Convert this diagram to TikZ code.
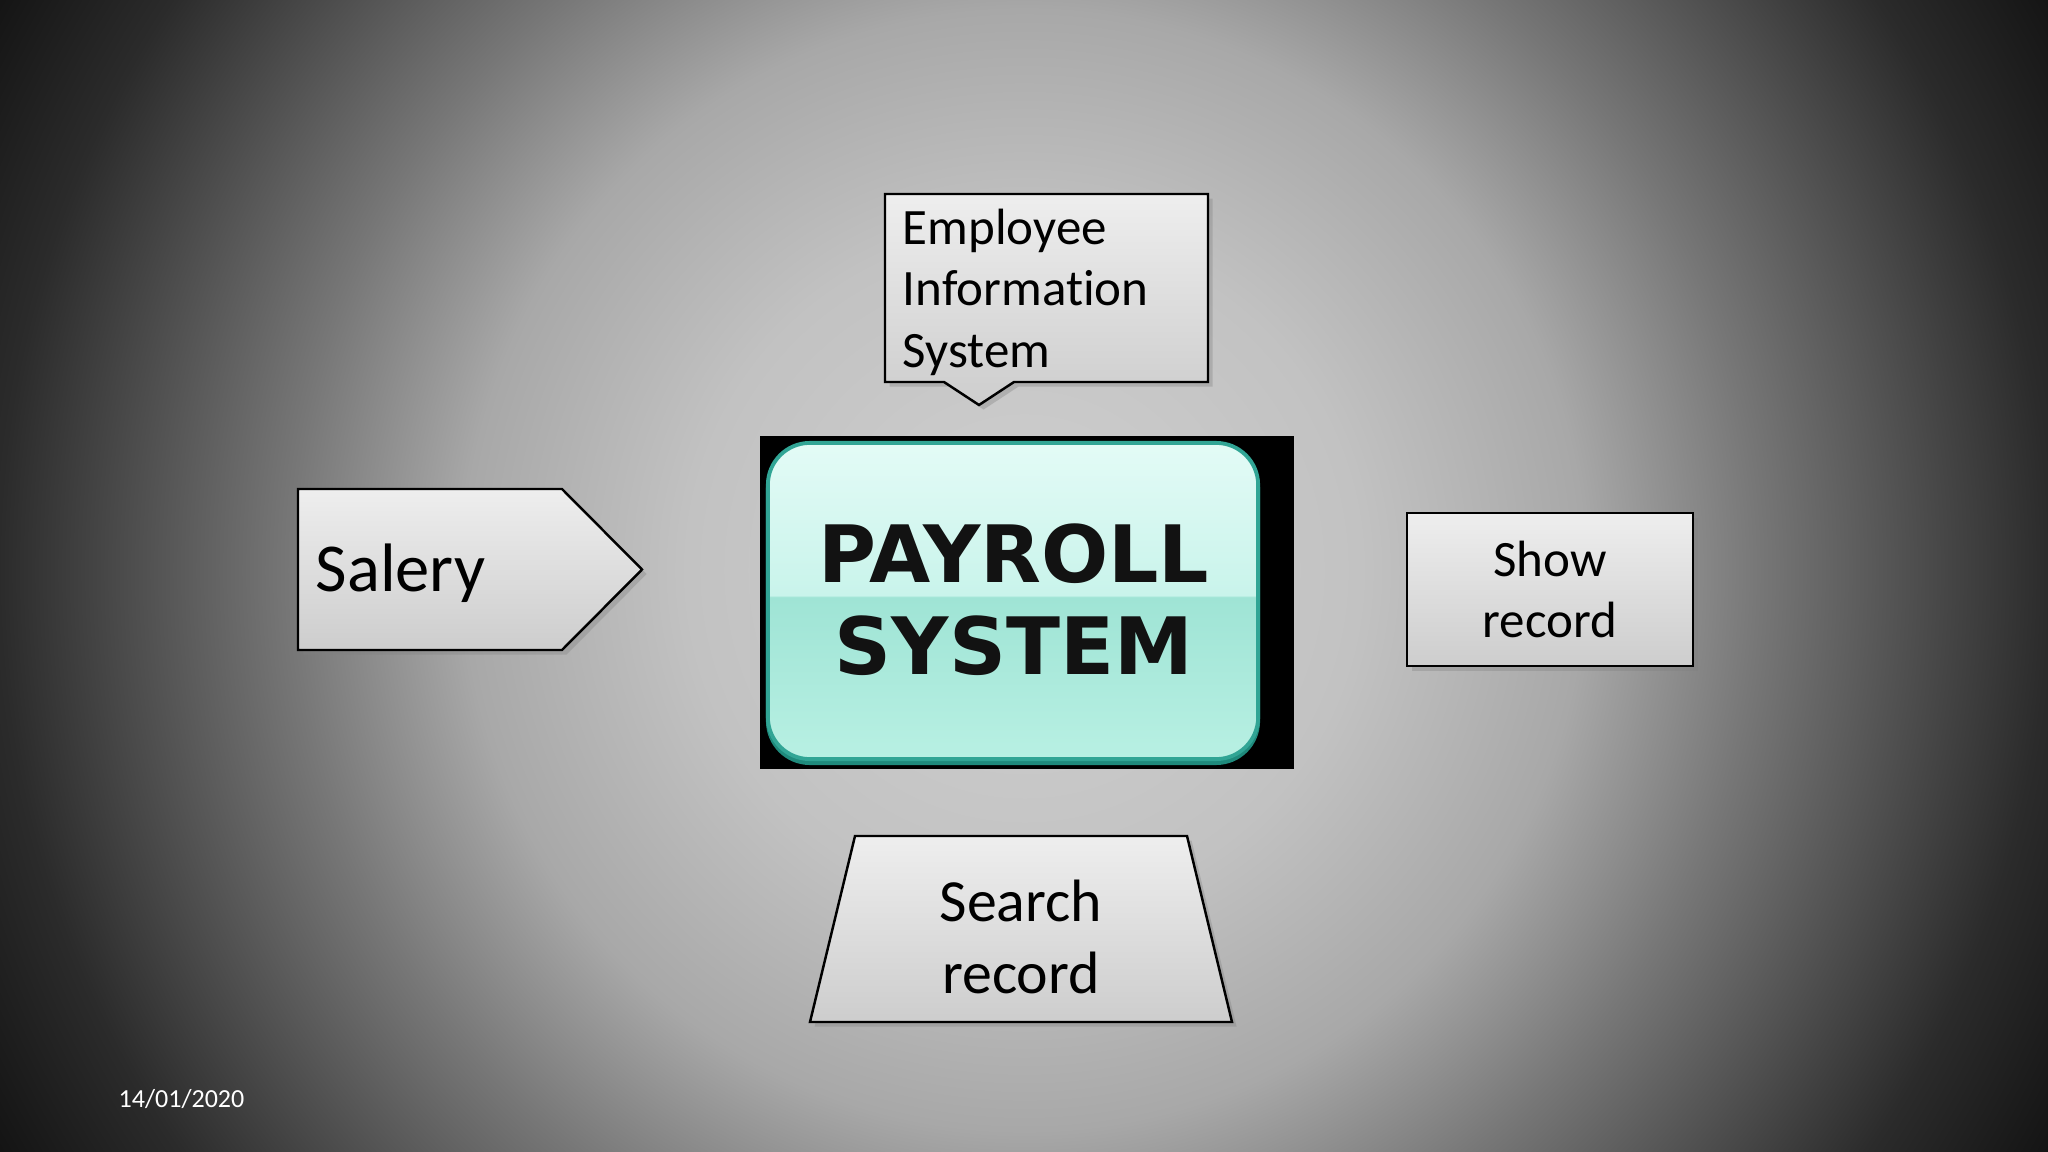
\documentclass[tikz,border=0pt]{standalone}
\usepackage{fontspec}
\setmainfont{Carlito}[Ligatures=NoCommon]
\newfontfamily\btnfont{DejaVu Sans}
\usepackage{tikz}
\usetikzlibrary{shadows}

\definecolor{glowA}{HTML}{D0D0D0}
\definecolor{glowB}{HTML}{C2C2C2}
\definecolor{glowC}{HTML}{A8A8A8}
\definecolor{glowD}{HTML}{777777}
\definecolor{glowE}{HTML}{2B2B2B}
\definecolor{glowF}{HTML}{141414}
\definecolor{glowG}{HTML}{080808}
\definecolor{panelTop}{HTML}{EEEEEE}
\definecolor{panelBot}{HTML}{CDCDCD}
\definecolor{btnTop}{HTML}{E3FBF6}
\definecolor{btnMidHigh}{HTML}{C9F4EB}
\definecolor{btnMidLow}{HTML}{9FE4D5}
\definecolor{btnBot}{HTML}{B8F0E3}
\definecolor{btnEdge}{HTML}{31A595}
\definecolor{btnDark}{HTML}{1F8A7C}

\pgfdeclareradialshading{slideglow}{\pgfpoint{0bp}{0bp}}{%
  color(0bp)=(glowA); color(6bp)=(glowB); color(10bp)=(glowC);
  color(13.1bp)=(glowD); color(18.3bp)=(glowE); color(21bp)=(glowF);
  color(25bp)=(glowG); color(50bp)=(glowG)}
\pgfdeclareverticalshading{btnfill}{100bp}{%
  color(0bp)=(btnBot); color(25bp)=(btnBot); color(50.6bp)=(btnMidLow);
  color(50.9bp)=(btnMidHigh); color(75bp)=(btnTop); color(100bp)=(btnTop)}

\tikzset{%
  panel/.style={draw=black, line width=0.7pt, top color=panelTop, bottom color=panelBot,
    drop shadow={shadow xshift=1.3pt, shadow yshift=-1.3pt, opacity=0.35}},
  btnbox/.style={rectangle, rounded corners=0.42cm, minimum width=4.90cm,
    minimum height=3.16cm, inner sep=0pt, line width=1.1pt},
  titletext/.style={font=\btnfont\bfseries\fontsize{22.5}{26.2}\selectfont,
    align=center, text=black!93},
  smalltext/.style={font=\fontsize{14.5}{17.5}\selectfont}
}

\begin{document}
\begin{tikzpicture}[x=0.01cm, y=-0.01cm]
\useasboundingbox (0,0) rectangle (2048,1152);

% background
\fill [glowG] (0,0) rectangle (2048,1152);
\begin{scope}
  \clip (0,0) rectangle (2048,1152);
  \shade [shading=slideglow] (1024,570) circle (14cm);
\end{scope}

% centre button
\node (frame) [fill=black, minimum width=5.34cm, minimum height=3.33cm, inner sep=0pt] at (1027,602.5) {};
\node (btnedge) [btnbox, draw=btnDark, fill=btnDark] at (1013,605) {};
\node (btn) [btnbox, draw=btnEdge, shade, shading=btnfill] at (1013,601) {};
\node (title) [titletext] at (1014,600) {PAYROLL\\SYSTEM};

% boxes round it
\path [panel] (885,194) -- (1208,194) -- (1208,382) -- (1014,382) -- (979,405)
  -- (944,382) -- (885,382) -- cycle;
\node (eis) [text width=2.87cm, inner sep=0pt, align=left, smalltext]
  at (1046.5,292) {Employee\\Information\\System};

\path [panel] (298,489) -- (562,489) -- (642,569.5) -- (562,650) -- (298,650) -- cycle;
\node (salery) [anchor=base west, inner sep=0pt, font=\fontsize{19.5}{23}\selectfont] at (315,592) {Salery};

\node (show) [panel, minimum width=2.86cm, minimum height=1.53cm, align=center, smalltext]
  at (1550,589.5) {Show\\record};

\path [panel] (855,836) -- (1187,836) -- (1232,1022) -- (810,1022) -- cycle;
\node (search) [align=center, font=\fontsize{17}{20.4}\selectfont] at (1021,937) {Search\\record};

\node (date) [anchor=base west, inner sep=0pt, text=white, font=\fontsize{7.4}{9}\selectfont] at (118,1107) {14/01/2020};
\end{tikzpicture}
\end{document}
